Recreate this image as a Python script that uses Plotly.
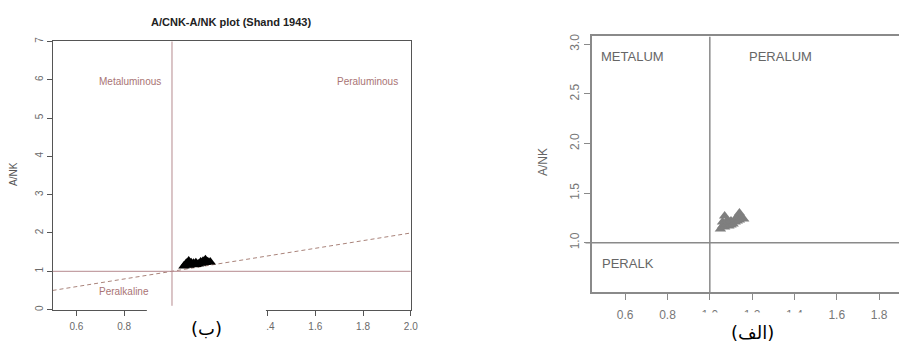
import plotly.graph_objects as go

# ---- data ----
acnk = [1.05, 1.06, 1.06, 1.07, 1.07, 1.08, 1.08, 1.09, 1.09, 1.10,
        1.10, 1.11, 1.12, 1.12, 1.13, 1.13, 1.14, 1.14, 1.15, 1.16]
ank = [1.14, 1.17, 1.21, 1.16, 1.27, 1.19, 1.22, 1.17, 1.21, 1.18,
       1.22, 1.19, 1.21, 1.24, 1.22, 1.26, 1.23, 1.30, 1.25, 1.24]

shand_line_x = [0.5, 2.0]
shand_line_y = [0.5, 2.0]

left_xticks = [0.6, 0.8, 1.0, 1.2, 1.4, 1.6, 1.8, 2.0]
left_xticktext = ["0.6", "0.8", "", "", "1.4", "1.6", "1.8", "2.0"]  # 1.0/1.2 hidden by panel label
left_yticks = [0, 1, 2, 3, 4, 5, 6, 7]
right_xticks = [0.6, 0.8, 1.0, 1.2, 1.4, 1.6, 1.8]
right_yticks = [1.0, 1.5, 2.0, 2.5, 3.0]

W, H = 906, 346
def px(x):
    return x / W
def py(y):
    return 1 - y / H

AX = "#555555"
TICKC = "#6a6a6a"
ROSE = "#b68a8f"
ROSE_TXT = "#a97474"
GRAY = "#8a8a8a"

fig = go.Figure()

# ---- left panel (ب) ----
fig.add_trace(go.Scatter(x=shand_line_x, y=shand_line_y, mode="lines",
                         line=dict(color="#a9837a", width=1, dash="4px,3px"),
                         xaxis="x", yaxis="y", hoverinfo="skip"))
fig.add_trace(go.Scatter(x=acnk, y=ank, mode="markers",
                         marker=dict(symbol="triangle-up", size=10, color="black"),
                         xaxis="x", yaxis="y"))

# ---- right panel (الف) ----
fig.add_trace(go.Scatter(x=acnk, y=ank, mode="markers",
                         marker=dict(symbol="triangle-up", size=10, color="#7f7f7f"),
                         xaxis="x2", yaxis="y2"))

shapes = [
    dict(type="line", xref="x", yref="y", x0=1.0, x1=1.0, y0=0.1, y1=7,
         line=dict(color=ROSE, width=1)),
    dict(type="line", xref="x", yref="y", x0=0.5, x1=2.0, y0=1, y1=1,
         line=dict(color=ROSE, width=1)),
    dict(type="line", xref="x2", yref="y2", x0=1.0, x1=1.0, y0=0.505, y1=3.079,
         line=dict(color=GRAY, width=1.5)),
    dict(type="line", xref="paper", yref="y2", x0=px(590), x1=1.0, y0=1.0, y1=1.0,
         line=dict(color=GRAY, width=1.5)),
    dict(type="rect", xref="paper", yref="paper", x0=px(148), x1=px(268),
         y0=0, y1=py(307), fillcolor="white", line=dict(width=0), layer="above"),
    dict(type="rect", xref="paper", yref="paper", x0=px(696), x1=px(822),
         y0=0, y1=py(313), fillcolor="white", line=dict(width=0), layer="above"),
]

def ann(text, x, y, size, color, family="Liberation Sans, Arial", angle=0):
    return dict(text=text, x=px(x), y=py(y), xref="paper", yref="paper",
                xanchor="center", yanchor="middle", showarrow=False,
                textangle=angle, font=dict(family=family, size=size, color=color))

annotations = [
    ann("<b>A/CNK-A/NK plot (Shand 1943)</b>", 233, 17, 11, "#222"),
    ann("A/NK", 13, 172, 10, "#555", angle=-90),
    ann("Metaluminous", 131, 78, 10, ROSE_TXT),
    ann("Peraluminous", 370, 78, 10, ROSE_TXT),
    ann("Peralkaline", 125, 292, 10, ROSE_TXT),
    ann("(ب)", 208, 329, 18, "black", family="DejaVu Sans"),
    ann("A/NK", 547, 160, 12, "#666", angle=-90),
    ann("METALUM", 637, 52, 13, "#666"),
    ann("PERALUM", 787, 52, 13, "#666"),
    ann("PERALK", 633, 263, 13, "#666"),
    ann("(الف)", 758, 333, 18, "black", family="DejaVu Sans"),
]

axis_common = dict(showgrid=False, zeroline=False, showline=True, linecolor=AX,
                   linewidth=1, ticks="outside", tickcolor=AX, tickwidth=1,
                   fixedrange=True)
gray_axis = {**axis_common, "linecolor": GRAY, "tickcolor": GRAY, "linewidth": 1.5}

fig.update_layout(
    width=W, height=H, margin=dict(l=0, r=0, t=0, b=0),
    paper_bgcolor="white", plot_bgcolor="white", showlegend=False,
    xaxis=dict(domain=[px(53), px(414)], range=[0.5, 2.0], tickvals=left_xticks,
               ticktext=left_xticktext, ticklen=5, mirror=True, anchor="y",
               ticklabelstandoff=2,
               tickfont=dict(family="Liberation Sans, Arial", size=10, color=TICKC),
               **axis_common),
    yaxis=dict(domain=[py(310), py(37)], range=[0, 7], tickvals=left_yticks,
               ticklen=5, tickangle=-90, mirror=True, anchor="x",
               tickfont=dict(family="Liberation Sans, Arial", size=10, color=TICKC),
               **axis_common),
    xaxis2=dict(domain=[px(597), 1.0], range=[0.445, 1.894], tickvals=right_xticks,
                tickformat=".1f", ticklen=6, mirror=True, anchor="y2",
                ticklabelstandoff=5,
                tickfont=dict(family="Liberation Sans, Arial", size=12, color="#777"),
                **gray_axis),
    yaxis2=dict(domain=[py(292), py(32)], range=[0.505, 3.079], tickvals=right_yticks,
                tickformat=".1f", ticklen=7, tickangle=-90, mirror=False, anchor="x2",
                tickfont=dict(family="Liberation Sans, Arial", size=12, color="#777"),
                **gray_axis),
    shapes=shapes, annotations=annotations,
)

fig.write_html("out.html", config={"displayModeBar": False},
               post_script="document.body.style.margin='0';document.body.style.padding='0';")
